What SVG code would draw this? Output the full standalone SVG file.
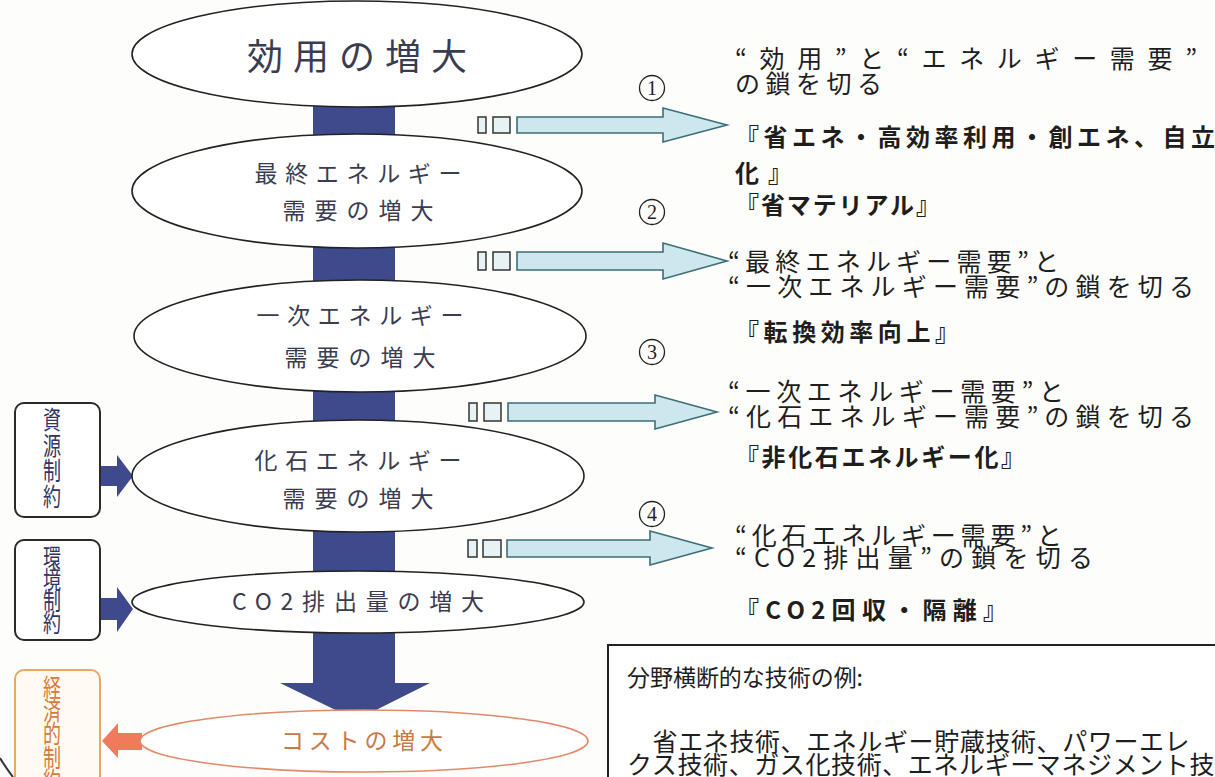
<svg xmlns="http://www.w3.org/2000/svg" width="1215" height="777" viewBox="0 0 1215 777">
<defs>
<style>
.ell{fill:#fff;stroke:#222;stroke-width:1.6}
.et{font-family:"Noto Sans CJK JP","Noto Sans",sans-serif;fill:#3a3d50;text-anchor:middle}
.rt{font-family:"Noto Sans CJK JP","Noto Sans",sans-serif;fill:#1e1e1e;font-size:25px}
.rb{font-family:"Noto Sans CJK JP","Noto Sans",sans-serif;fill:#1e1e1e;font-size:24px;font-weight:bold}
.num{font-family:"Liberation Serif","Noto Sans CJK JP",serif;fill:#222;text-anchor:middle}
.bar{fill:#3f4a8c}
.la{fill:#cde7ee;stroke:#3d6e76;stroke-width:1.6}
.sq{fill:#e6f2f4;stroke:#333;stroke-width:1.5}
.box{fill:#fff;stroke:#2a2a2a;stroke-width:2}
.vt{font-family:"Noto Sans CJK JP",sans-serif;font-size:25px;writing-mode:vertical-rl;fill:#2e3566}
.bt{font-family:"Noto Sans CJK JP","Noto Sans",sans-serif;fill:#1e1e1e}
.circ{fill:none;stroke:#222;stroke-width:1.3}
</style>
</defs>
<rect width="1215" height="777" fill="#fdfdfb"/>

<g id="connectors">
  <rect class="bar" x="313" y="100" width="82" height="45"/>
  <rect class="bar" x="313" y="240" width="82" height="45"/>
  <rect class="bar" x="313" y="385" width="82" height="40"/>
  <rect class="bar" x="313" y="525" width="82" height="52"/>
  <polygon class="bar" points="313,628 395,628 395,683 430,683 356,720 280,683 313,683"/>
  <polygon class="bar" points="100,466 117,466 117,455 133,476 117,497 117,486 100,486"/>
  <polygon class="bar" points="100,598 117,598 117,587 133,609 117,632 117,620 100,620"/>
  <polygon fill="#f07a5c" points="142,733 118,733 118,723 102,741 118,758 118,750 142,750"/>
  <g id="arrow1">
    <rect class="sq" x="478" y="117" width="8" height="16"/>
    <rect class="sq" x="493" y="117" width="17" height="16"/>
    <polygon class="la" points="517,117 663,117 663,108 727,125 663,142 663,133 517,133"/>
  </g>
  <g id="arrow2">
    <rect class="sq" x="478" y="252" width="8" height="18"/>
    <rect class="sq" x="493" y="252" width="17" height="18"/>
    <polygon class="la" points="517,252 663,252 663,243 727,261 663,279 663,270 517,270"/>
  </g>
  <g id="arrow3">
    <rect class="sq" x="469" y="403" width="8" height="18"/>
    <rect class="sq" x="484" y="403" width="17" height="18"/>
    <polygon class="la" points="508,403 655,403 655,395 717,412 655,429 655,421 508,421"/>
  </g>
  <g id="arrow4">
    <rect class="sq" x="468" y="540" width="9" height="17"/>
    <rect class="sq" x="483" y="540" width="18" height="17"/>
    <polygon class="la" points="507,540 650,540 650,531 712,548 650,565 650,557 507,557"/>
  </g>
</g>

<g id="n1">
  <ellipse class="ell" cx="357" cy="54" rx="225" ry="53"/>
  <text class="et" x="357" y="70" font-size="36" textLength="220" lengthAdjust="spacing">効用の増大</text>
</g>
<g id="n2">
  <ellipse class="ell" cx="357" cy="191" rx="225" ry="57"/>
  <text class="et" x="358" y="182" font-size="23" textLength="207" lengthAdjust="spacing">最終エネルギー</text>
  <text class="et" x="358" y="219" font-size="23" textLength="151" lengthAdjust="spacing">需要の増大</text>
</g>
<g id="n3">
  <ellipse class="ell" cx="360" cy="336" rx="226" ry="56"/>
  <text class="et" x="360" y="324" font-size="23" textLength="207" lengthAdjust="spacing">一次エネルギー</text>
  <text class="et" x="360" y="366" font-size="23" textLength="151" lengthAdjust="spacing">需要の増大</text>
</g>
<g id="n4">
  <ellipse class="ell" cx="358" cy="476" rx="226" ry="56"/>
  <text class="et" x="358" y="469" font-size="23" textLength="207" lengthAdjust="spacing">化石エネルギー</text>
  <text class="et" x="358" y="507" font-size="23" textLength="151" lengthAdjust="spacing">需要の増大</text>
</g>
<g id="n5">
  <ellipse class="ell" cx="358" cy="602" rx="226" ry="31"/>
  <text class="et" x="358" y="610" font-size="23" textLength="252" lengthAdjust="spacing">CO2排出量の増大</text>
</g>
<g id="n6">
  <ellipse cx="364" cy="741" rx="224" ry="31" fill="#fff" stroke="#e08a6a" stroke-width="1.6"/>
  <text class="et" x="362" y="749" font-size="23" textLength="162" lengthAdjust="spacing" style="fill:#c77a45">コストの増大</text>
</g>

<g id="c1">
  <rect class="box" x="15" y="403" width="85" height="114" rx="9"/>
  <text class="vt" x="0" y="0" transform="translate(52 407) scale(0.72 1)" textLength="102" lengthAdjust="spacing">資源制約</text>
</g>
<g id="c2">
  <rect class="box" x="15" y="540" width="85" height="100" rx="9"/>
  <text class="vt" x="0" y="0" transform="translate(52 545) scale(0.72 1)" textLength="90" lengthAdjust="spacing">環境制約</text>
</g>
<g id="c3">
  <rect x="15" y="670" width="85" height="120" rx="9" fill="#fffbf3" stroke="#e6a862" stroke-width="2"/>
  <text class="vt" x="0" y="0" transform="translate(52 675) scale(0.72 1)" textLength="118" lengthAdjust="spacing" style="fill:#d77a3a">経済的制約</text>
</g>
<path d="M0,758 Q6,768 13,777" fill="none" stroke="#333" stroke-width="2"/>

<g id="labels">
  <circle class="circ" cx="652" cy="88" r="12.5"/>
  <text class="num" x="652" y="95" font-size="20">1</text>
  <circle class="circ" cx="652" cy="212" r="12.5"/>
  <text class="num" x="652" y="219" font-size="20">2</text>
  <circle class="circ" cx="652" cy="352" r="12.5"/>
  <text class="num" x="652" y="359" font-size="20">3</text>
  <circle class="circ" cx="652" cy="514" r="12.5"/>
  <text class="num" x="652" y="521" font-size="20">4</text>

  <text class="rt" x="735" y="68" textLength="462" lengthAdjust="spacing">“効用”と“エネルギー需要”</text>
  <text class="rt" x="735" y="93" textLength="147" lengthAdjust="spacing">の鎖を切る</text>
  <text class="rb" x="735" y="146" textLength="480" lengthAdjust="spacing">『省エネ・高効率利用・創エネ、自立</text>
  <text class="rb" x="735" y="182" textLength="57" lengthAdjust="spacing">化』</text>
  <text class="rb" x="735" y="214" textLength="205" lengthAdjust="spacing">『省マテリアル』</text>
  <text class="rt" x="728" y="271" textLength="331" lengthAdjust="spacing">“最終エネルギー需要”と</text>
  <text class="rt" x="728" y="296" textLength="466" lengthAdjust="spacing">“一次エネルギー需要”の鎖を切る</text>
  <text class="rb" x="735" y="341" textLength="224" lengthAdjust="spacing">『転換効率向上』</text>
  <text class="rt" x="728" y="401" textLength="336" lengthAdjust="spacing">“一次エネルギー需要”と</text>
  <text class="rt" x="728" y="426" textLength="466" lengthAdjust="spacing">“化石エネルギー需要”の鎖を切る</text>
  <text class="rb" x="735" y="466" textLength="290" lengthAdjust="spacing">『非化石エネルギー化』</text>
  <text class="rt" x="735" y="545" textLength="327" lengthAdjust="spacing">“化石エネルギー需要”と</text>
  <text class="rt" x="735" y="567" textLength="358" lengthAdjust="spacing">“CO2排出量”の鎖を切る</text>
  <text class="rb" x="735" y="619" textLength="272" lengthAdjust="spacing">『CO2回収・隔離』</text>
</g>

<g id="tech-box">
  <rect x="608" y="645" width="620" height="150" fill="#fff" stroke="#222" stroke-width="2"/>
  <text class="bt" x="627" y="686" font-size="23" textLength="236" lengthAdjust="spacing">分野横断的な技術の例:</text>
  <text class="bt" x="627" y="751" font-size="25" letter-spacing="0.6">　省エネ技術、エネルギー貯蔵技術、パワーエレ</text>
  <text class="bt" x="627" y="774" font-size="25" letter-spacing="0.6">クス技術、ガス化技術、エネルギーマネジメント技</text>
</g>
</svg>
